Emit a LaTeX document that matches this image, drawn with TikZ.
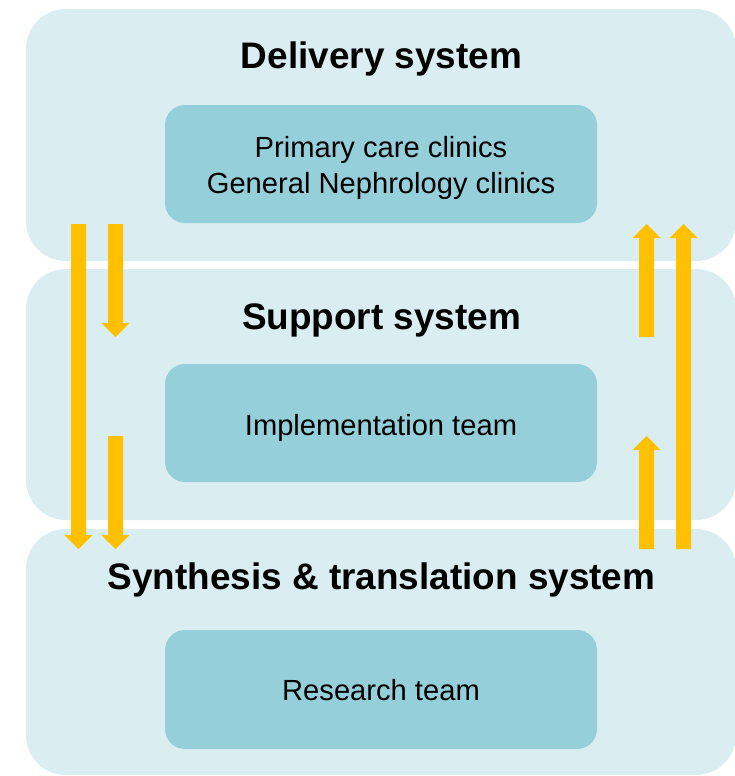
\documentclass[tikz,border=0pt]{standalone}
\usepackage{fontspec}
\setmainfont{Liberation Sans}
\usetikzlibrary{calc}
\definecolor{panelc}{RGB}{218,237,241}
\definecolor{innerc}{RGB}{149,207,218}
\definecolor{arrowc}{RGB}{255,192,0}
\newcommand\dnarr[2]{\fill[arrowc] ($(#1)+(-7.5,0)$) -- ($(#2)+(-7.5,-14)$) -- ($(#2)+(-14,-14)$) -- (#2) -- ($(#2)+(14,-14)$) -- ($(#2)+(7.5,-14)$) -- ($(#1)+(7.5,0)$) -- cycle;}
\newcommand\uparr[2]{\fill[arrowc] ($(#1)+(-7.5,0)$) -- ($(#2)+(-7.5,14)$) -- ($(#2)+(-14,14)$) -- (#2) -- ($(#2)+(14,14)$) -- ($(#2)+(7.5,14)$) -- ($(#1)+(7.5,0)$) -- cycle;}
\begin{document}
\begin{tikzpicture}[x=1pt,y=-1pt,
  panelbox/.style={fill=panelc, rounded corners=40pt, inner sep=0pt, minimum width=710pt},
  innerbox/.style={fill=innerc, rounded corners=20pt, inner sep=0pt, minimum width=432pt},
  titletext/.style={anchor=base, inner sep=0pt, font=\bfseries\fontsize{36.9}{40}\selectfont},
  bodytext/.style={anchor=base, inner sep=0pt, font=\fontsize{29.15}{35}\selectfont}]
\useasboundingbox (0,0) rectangle (735,776);
% panels
\node[panelbox, minimum height=252pt] (p1) at (381,135) {};
\node[panelbox, minimum height=251pt] (p2) at (381,394.5) {};
\node[panelbox, minimum height=246pt] (p3) at (381,652) {};
% inner boxes
\node[innerbox, minimum height=118pt] (b1) at (381,164) {};
\node[innerbox, minimum height=118pt] (b2) at (381,423) {};
\node[innerbox, minimum height=119pt] (b3) at (381,689.5) {};
% titles
\node[titletext] (t1) at (381.5,68) {Delivery system};
\node[titletext] (t2) at (381.5,329) {Support system};
\node[titletext] (t3) at (381.5,589) {Synthesis \& translation system};
% body texts
\node[bodytext] (x1a) at (381,157) {Primary care clinics};
\node[bodytext] (x1b) at (381,193) {General Nephrology clinics};
\node[bodytext] (x2) at (381,435) {Implementation team};
\node[bodytext] (x3) at (381,700) {Research team};
% arrow end points
\coordinate (l1s) at (78.5,224);  \coordinate (l1t) at (78.5,549);
\coordinate (l2s) at (115.5,224); \coordinate (l2t) at (115.5,337);
\coordinate (l3s) at (115.5,436); \coordinate (l3t) at (115.5,549);
\coordinate (r1s) at (646.5,337); \coordinate (r1t) at (646.5,224);
\coordinate (r2s) at (683.5,549); \coordinate (r2t) at (683.5,224);
\coordinate (r3s) at (646.5,549); \coordinate (r3t) at (646.5,436);
\dnarr{l1s}{l1t}
\dnarr{l2s}{l2t}
\dnarr{l3s}{l3t}
\uparr{r1s}{r1t}
\uparr{r2s}{r2t}
\uparr{r3s}{r3t}
\end{tikzpicture}
\end{document}
